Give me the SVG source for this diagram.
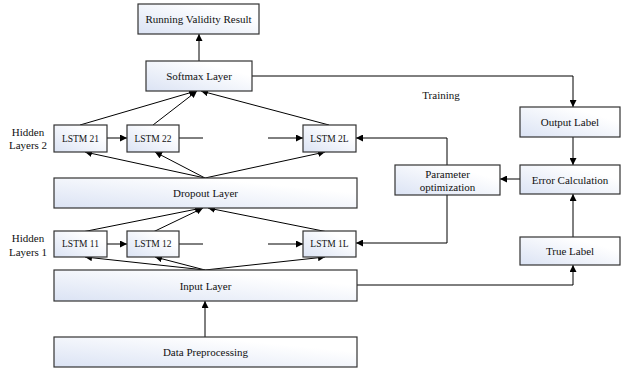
<svg xmlns="http://www.w3.org/2000/svg" width="621" height="370" viewBox="0 0 621 370">
<defs>
<linearGradient id="g" x1="0" y1="1" x2="1" y2="0">
<stop offset="0" stop-color="#dbe3f4"/>
<stop offset="0.75" stop-color="#ffffff"/>
</linearGradient>
<marker id="a" viewBox="0 0 10 10" refX="10" refY="5" markerWidth="7" markerHeight="7" markerUnits="userSpaceOnUse" orient="auto">
<path d="M0,0 L10,5 L0,10 z" fill="#000"/>
</marker>
</defs>
<style>
.b{fill:url(#g);stroke:#333;stroke-width:1.2}
.t{font-family:"Liberation Serif","Times New Roman",serif;font-size:11px;fill:#111;text-anchor:middle;dominant-baseline:central}
.s{font-size:9.5px}
.c line,.c polyline{stroke:#000;stroke-width:1;fill:none}
.m{marker-end:url(#a)}
</style>
<rect width="621" height="370" fill="#fff"/>
<g class="c">
<line class="m" x1="199" y1="61" x2="199" y2="34"/>
<line class="m" x1="205" y1="337" x2="205" y2="301"/>
<line class="m" x1="80" y1="125" x2="196" y2="91"/>
<line class="m" x1="153" y1="125" x2="197" y2="91"/>
<line class="m" x1="329" y1="125" x2="201" y2="91"/>
<line class="m" x1="205" y1="178" x2="85" y2="152"/>
<line class="m" x1="205" y1="178" x2="155" y2="152"/>
<line class="m" x1="205" y1="178" x2="325" y2="152"/>
<line class="m" x1="82" y1="232" x2="202" y2="208"/>
<line class="m" x1="153" y1="232" x2="203" y2="208"/>
<line class="m" x1="328" y1="232" x2="208" y2="208"/>
<line class="m" x1="205" y1="270" x2="85" y2="257"/>
<line class="m" x1="205" y1="270" x2="155" y2="257"/>
<line class="m" x1="205" y1="270" x2="325" y2="257"/>
<line class="m" x1="107" y1="138" x2="127" y2="138"/>
<line x1="179" y1="138" x2="203" y2="138"/>
<line class="m" x1="268" y1="138" x2="303" y2="138"/>
<line class="m" x1="107" y1="244" x2="127" y2="244"/>
<line x1="179" y1="244" x2="203" y2="244"/>
<line class="m" x1="268" y1="244" x2="303" y2="244"/>
<polyline class="m" points="252,76 573,76 573,107"/>
<line class="m" x1="573" y1="137" x2="573" y2="165"/>
<line class="m" x1="573" y1="237" x2="573" y2="194"/>
<polyline class="m" points="357,285 573,285 573,265"/>
<line class="m" x1="520" y1="179" x2="500" y2="179"/>
<polyline class="m" points="447,165 447,138 356,138"/>
<polyline class="m" points="447,195 447,243 356,243"/>
</g>
<g id="rvr"><rect class="b" x="138" y="4" width="121" height="30"/><text class="t" x="198.5" y="19">Running Validity Result</text></g>
<g id="softmax"><rect class="b" x="146" y="61" width="106" height="30"/><text class="t" x="199" y="76">Softmax Layer</text></g>
<g id="lstm21"><rect class="b" x="54" y="125" width="53" height="27"/><text class="t s" x="80.5" y="138.5">LSTM 21</text></g>
<g id="lstm22"><rect class="b" x="127" y="125" width="52" height="27"/><text class="t s" x="153" y="138.5">LSTM 22</text></g>
<g id="lstm2l"><rect class="b" x="303" y="125" width="53" height="27"/><text class="t s" x="329.5" y="138.5">LSTM 2L</text></g>
<g id="dropout"><rect class="b" x="54" y="178" width="303" height="30"/><text class="t" x="205.5" y="193">Dropout Layer</text></g>
<g id="lstm11"><rect class="b" x="54" y="231" width="53" height="26"/><text class="t s" x="80.5" y="244">LSTM 11</text></g>
<g id="lstm12"><rect class="b" x="127" y="231" width="52" height="26"/><text class="t s" x="153" y="244">LSTM 12</text></g>
<g id="lstm1l"><rect class="b" x="303" y="231" width="53" height="26"/><text class="t s" x="329.5" y="244">LSTM 1L</text></g>
<g id="input"><rect class="b" x="54" y="270" width="303" height="31"/><text class="t" x="205.5" y="285.5">Input Layer</text></g>
<g id="preproc"><rect class="b" x="54" y="337" width="303" height="30"/><text class="t" x="205.5" y="352">Data Preprocessing</text></g>
<g id="param"><rect class="b" x="395" y="165" width="105" height="30"/><text class="t" x="447.5" y="173.5">Parameter</text><text class="t" x="447.5" y="186.5">optimization</text></g>
<g id="output"><rect class="b" x="520" y="107" width="100" height="30"/><text class="t" x="570" y="122">Output Label</text></g>
<g id="error"><rect class="b" x="520" y="165" width="100" height="29"/><text class="t" x="570" y="179.5">Error Calculation</text></g>
<g id="true"><rect class="b" x="520" y="237" width="100" height="28"/><text class="t" x="570" y="251">True Label</text></g>
<g id="labels">
<text class="t" x="28" y="132">Hidden</text>
<text class="t" x="28" y="145">Layers 2</text>
<text class="t" x="28" y="238">Hidden</text>
<text class="t" x="28" y="252">Layers 1</text>
<text class="t" x="441" y="95">Training</text>
</g>
</svg>
